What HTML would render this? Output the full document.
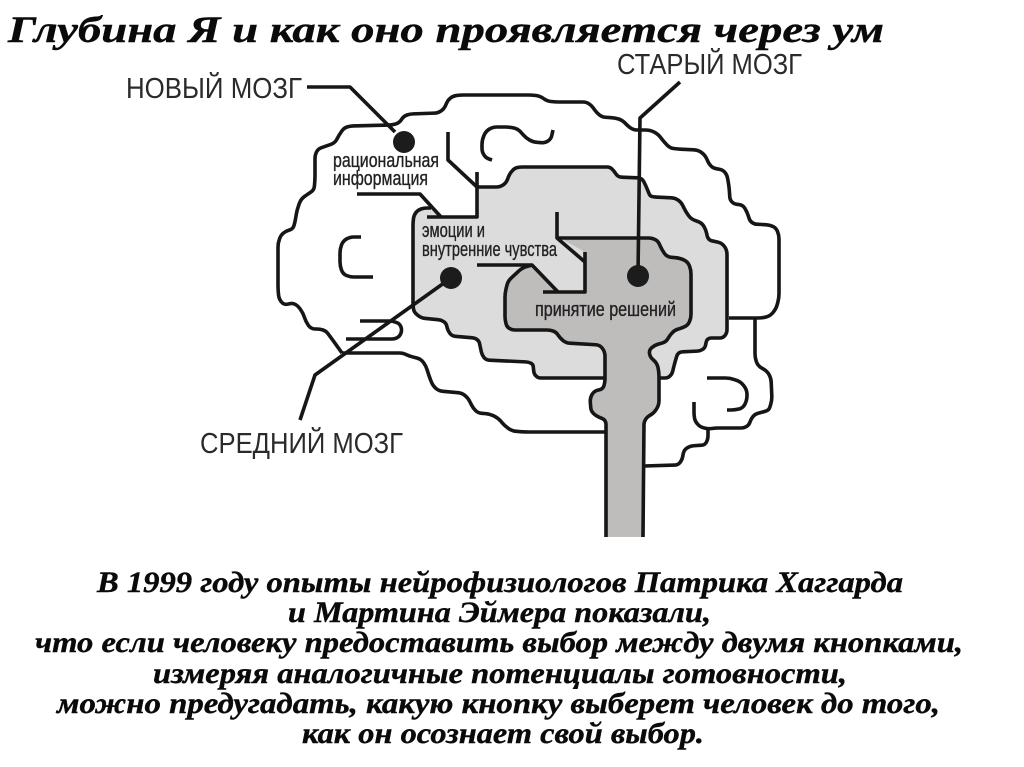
<!DOCTYPE html>
<html><head><meta charset="utf-8"><title>Глубина Я</title>
<style>
html,body{margin:0;padding:0;background:#fff}
svg{display:block}
.h{font-family:"Liberation Serif",serif;font-weight:bold;font-style:italic;fill:#0a0a0a;stroke:#0a0a0a;stroke-width:.4px}
.l{font-family:"Liberation Sans",sans-serif;fill:#2c2c2c;font-size:29px}
.s{font-family:"Liberation Sans",sans-serif;font-size:20px;fill:#222;stroke:#222;stroke-width:.35px}
.k{fill:none;stroke:#141414;stroke-width:3.6;stroke-linejoin:round;stroke-linecap:butt}
</style></head><body>
<svg width="1024" height="767" viewBox="0 0 1024 767" xmlns="http://www.w3.org/2000/svg">
<defs><filter id="b" x="-5%" y="-5%" width="110%" height="110%"><feGaussianBlur stdDeviation="0.25"/></filter></defs>
<rect width="1024" height="767" fill="#fff"/>
<text class="h" font-size="37" x="8" y="42" textLength="876" lengthAdjust="spacingAndGlyphs">Глубина Я и как оно проявляется через ум</text>

<g filter="url(#b)">
<path class="r" fill="#dcdcdc" d="M413,222L414,215L418,210L424,208L431,208L440,217L477,217L477,187L500,187L506,183L510,173L515,168L520,167L610,167L614,171L618,177L642,178L646,186L650,196L654,197L675,198L681,202L686,212L691,219L702,223L706,230L708,240L722,243L727,250L727,333L723,338L707,338L705,348L700,351L678,352L675,362L672,374L668,378L606,378L538,378L534,374L533,364L528,362L486,360L482,355L479,341L475,338L452,336L448,331L446,323L441,320L421,318L414,312L413,306Z"/>
<path class="r" fill="#bfbcbc" d="M606,537L606,420L596,416L591,411L590,398L594,391L603,389L605,382L605,352L600,345L566,343L560,338L556,332L550,330L512,330L507,327L505,320L505,293L508,281L522,268L532,265L558,292L585,292L585,252L560,238L652,238L658,241L662,250L667,257L680,258L688,262L691,270L691,318L688,325L682,328L675,330L670,335L666,342L655,345L649,350L650,357L657,363L659,372L659,405L654,413L647,417L644,422L643,537Z"/>

<g class="k">
<!-- outer contour -->
<path class="r" d="M342,353L332,339L326,331L320,329L311,329L306,322L303,313L298,306L293,303L284,305L279,299L278,290L278,243L281,235L286,231L293,229L295,222L297,210L301,199L308,194L314,190L315,180L315,155L318,149L326,146L335,143L339,135L344,128L350,126L392,125L399,123L404,116L410,114L438,113L444,109L448,100L453,96L460,95L532,95L540,96L547,101L555,102L586,102L591,105L597,113L602,117L615,118L622,120L629,127L634,130L650,130L658,134L664,142L670,148L677,149L698,150L705,155L709,164L713,168L723,170L727,175L729,186L730,200L734,204L743,205L747,212L750,221L754,224L770,225L776,228L779,235L779,298L776,309L770,316L762,318L729,318"/>
<path class="r" d="M755,318L755,358L758,366L767,371L771,378L772,400L769,410L763,412L755,414L751,419L749,425L744,428L715,428L709,429L700,427L695,421L694,415L694,402"/>
<path class="r" d="M708,429L708,439L705,445L690,446L684,450L682,460L678,465L644,466"/>
<path class="r" d="M342,353L403,353L409,356L421,359L426,366L429,376L433,386L439,391L462,393L468,398L473,408L478,413L490,414L498,418L505,426L512,431L525,432L606,432"/>
<!-- middle brain -->
<path d="M427,217L477,217L477,172"/>
<path class="r" d="M477,187L500,187L506,183L510,173L515,168L520,167L610,167L614,171L618,177L642,178L646,186L650,196L654,197L675,198L681,202L686,212L691,219L702,223L706,230L708,240L722,243L727,250L727,333L723,338L707,338L705,348L700,351L678,352L675,362L672,374L668,378L660,378"/>
<path class="r" d="M431,208L424,208L418,210L414,215L413,222L413,306L414,312L421,318L441,320L446,323L448,331L452,336L475,338L479,341L482,355L486,360L528,362L533,364L534,374L538,378L605,378"/>
<!-- old brain + stem -->
<path class="r" d="M606,537L606,420L596,416L591,411L590,398L594,391L603,389L605,382L605,352L600,345L566,343L560,338L556,332L550,330L512,330L507,327L505,320L505,293L508,281L522,268L532,265"/>
<path d="M543,292L585,292L585,252"/>
<path d="M477,265L532,265L558,292"/>
<path d="M557,212L557,238L585,262"/>
<path class="r" d="M557,238L652,238L658,241L662,250L667,257L680,258L688,262L691,270L691,318L688,325L682,328L675,330L670,335L666,342L655,345L649,350L650,357L657,363L659,372L659,405L654,413L647,417L644,422L643,537"/>
<!-- interior folds -->
<path d="M448,132L448,160L477,187"/>
<path class="r" d="M492,160L486,158L482,152L482,140L486,131L493,127L510,127L518,129L526,138L533,142L545,143L551,139L553,130"/>
<path class="r" d="M361,237L350,237L343,241L340,249L340,266L343,274L350,277L373,277"/>
<path class="r" d="M360,321L393,321L400,324L402,330L400,336L395,339L346,339"/>
<path class="r" d="M707,378L730,378L741,382L747,390L747,400L743,408L735,410L727,410"/>
<!-- leaders -->
<path d="M307,87L350,87L395,132"/>
<path d="M357,194L420,194L441,217"/>
<path d="M680,82L640,118L638,275"/>
<path d="M451,278L315,375L300,420"/>
</g>
<circle cx="404" cy="142" r="11" fill="#1a1a1a"/>
<circle cx="451" cy="278" r="11" fill="#1a1a1a"/>
<circle cx="638" cy="276" r="11" fill="#1a1a1a"/>

<text class="l" x="126" y="98" textLength="176" lengthAdjust="spacingAndGlyphs">НОВЫЙ МОЗГ</text>
<text class="l" x="617" y="74" textLength="185" lengthAdjust="spacingAndGlyphs">СТАРЫЙ МОЗГ</text>
<text class="l" x="200" y="453" textLength="203" lengthAdjust="spacingAndGlyphs">СРЕДНИЙ МОЗГ</text>
<text class="s" x="333" y="167" textLength="106" lengthAdjust="spacingAndGlyphs">рациональная</text>
<text class="s" x="333" y="185" textLength="95" lengthAdjust="spacingAndGlyphs">информация</text>
<text class="s" x="422" y="237" textLength="63" lengthAdjust="spacingAndGlyphs">эмоции и</text>
<text class="s" x="422" y="256" textLength="135" lengthAdjust="spacingAndGlyphs">внутренние чувства</text>
<text class="s" x="535" y="316" textLength="141" lengthAdjust="spacingAndGlyphs">принятие решений</text>
</g>

<g class="h" font-size="30">
<text x="97" y="592" textLength="806" lengthAdjust="spacingAndGlyphs">В 1999 году опыты нейрофизиологов Патрика Хаггарда</text>
<text x="288" y="622" textLength="423" lengthAdjust="spacingAndGlyphs">и Мартина Эймера показали,</text>
<text x="35" y="652" textLength="928" lengthAdjust="spacingAndGlyphs">что если человеку предоставить выбор между двумя кнопками,</text>
<text x="153" y="683" textLength="694" lengthAdjust="spacingAndGlyphs">измеряя аналогичные потенциалы готовности,</text>
<text x="57" y="713" textLength="883" lengthAdjust="spacingAndGlyphs">можно предугадать, какую кнопку выберет человек до того,</text>
<text x="302" y="743" textLength="402" lengthAdjust="spacingAndGlyphs">как он осознает свой выбор.</text>
</g>
</svg>
<script>
document.querySelectorAll('path.r').forEach(function(e){
  var d=e.getAttribute('d'),z=/Z$/.test(d);
  var p=d.replace(/[MZ]/g,'').split('L').map(function(s){return s.split(',').map(Number)});
  var o='M'+p[0].join(',');
  for(var i=1;i<p.length-1;i++){
    var a=p[i-1],c=p[i],b=p[i+1];
    var la=Math.hypot(a[0]-c[0],a[1]-c[1]),lb=Math.hypot(b[0]-c[0],b[1]-c[1]);
    var r=Math.min(4.5,la/2,lb/2);
    o+='L'+(c[0]+(a[0]-c[0])*r/la)+','+(c[1]+(a[1]-c[1])*r/la)+'Q'+c[0]+','+c[1]+' '+(c[0]+(b[0]-c[0])*r/lb)+','+(c[1]+(b[1]-c[1])*r/lb);
  }
  o+='L'+p[p.length-1].join(',')+(z?'Z':'');
  e.setAttribute('d',o);
});
</script>
</body></html>
